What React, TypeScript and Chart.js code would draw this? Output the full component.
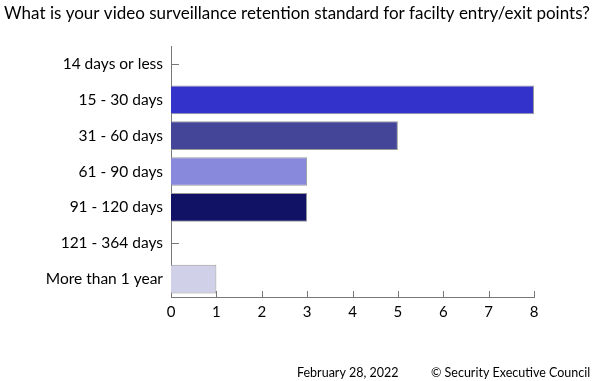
import React, { useEffect, useRef } from "react";
import { Chart, registerables } from "chart.js";
Chart.register(...registerables);

const TITLE = "What is your video surveillance retention standard for facilty entry/exit points?";
const categories = ["14 days or less", "15 - 30 days", "31 - 60 days", "61 - 90 days", "91 - 120 days", "121 - 364 days", "More than 1 year"];
const values = [0, 8, 5, 3, 3, 0, 1];
const barColors = ["#3333cc", "#3333cc", "#444499", "#8888dd", "#111166", "#8888dd", "#d0d0e8"];
const footerDate = "February 28, 2022";
const footerCopy = "© Security Executive Council";
const FONT = "Lato";

const decorPlugin = {
  id: "decor",
  beforeDatasetsDraw(chart: any) {
    const ctx = chart.ctx;
    const y = chart.scales.y;
    const x = chart.scales.x;
    ctx.save();
    ctx.strokeStyle = "#777";
    ctx.lineWidth = 1;
    for (let i = 0; i < categories.length; i++) {
      const py = Math.round(y.getPixelForValue(i)) + 0.5;
      ctx.beginPath();
      ctx.moveTo(x.left, py);
      ctx.lineTo(x.left + 8, py);
      ctx.stroke();
    }
    ctx.restore();
  },
  afterDraw(chart: any) {
    const ctx = chart.ctx;
    const x = chart.scales.x;
    ctx.save();
    ctx.strokeStyle = "#777";
    ctx.lineWidth = 1;
    for (let v = 1; v <= 8; v++) {
      const px = Math.round(x.getPixelForValue(v)) + 0.5;
      ctx.beginPath();
      ctx.moveTo(px, x.top);
      ctx.lineTo(px, x.top - 6);
      ctx.stroke();
    }
    ctx.fillStyle = "#000";
    ctx.font = `17px ${FONT}`;
    ctx.textAlign = "center";
    ctx.textBaseline = "alphabetic";
    ctx.fillText(TITLE, 297, 19);
    ctx.font = `12.5px ${FONT}`;
    ctx.textAlign = "left";
    ctx.fillText(footerDate, 297, 377);
    ctx.fillText(footerCopy, 431, 377);
    ctx.restore();
  },
};

export default function App() {
  const ref = useRef<HTMLCanvasElement>(null);
  useEffect(() => {
    const chart = new Chart(ref.current!, {
      type: "bar",
      data: {
        labels: categories,
        datasets: [
          {
            data: values,
            backgroundColor: barColors,
            borderColor: "#999",
            borderWidth: 1,
            barPercentage: 0.8,
            categoryPercentage: 1,
          },
        ],
      },
      options: {
        indexAxis: "y",
        animation: false,
        responsive: false,
        maintainAspectRatio: false,
        layout: { padding: { left: 0, right: 66, top: 46, bottom: 54 } },
        plugins: { legend: { display: false }, tooltip: { enabled: false }, title: { display: false } },
        scales: {
          x: {
            min: 0,
            max: 8,
            grid: { display: false },
            border: { display: true, color: "#777", width: 1 },
            ticks: { stepSize: 1, color: "#000", font: { family: FONT, size: 15 }, padding: -2 },
            afterFit(s: any) { s.height = 30; },
          },
          y: {
            grid: { display: false },
            border: { display: true, color: "#777", width: 1 },
            ticks: { color: "#000", font: { family: FONT, size: 15.5 }, padding: 0 },
            afterFit(s: any) { s.width = 171; },
          },
        },
      },
      plugins: [decorPlugin],
    });
    return () => chart.destroy();
  }, []);
  return (
    <div style={{ position: "fixed", left: 0, top: 0, width: 600, height: 381, background: "#fff" }}>
      <canvas ref={ref} width={600} height={381} style={{ width: 600, height: 381 }} />
    </div>
  );
}
